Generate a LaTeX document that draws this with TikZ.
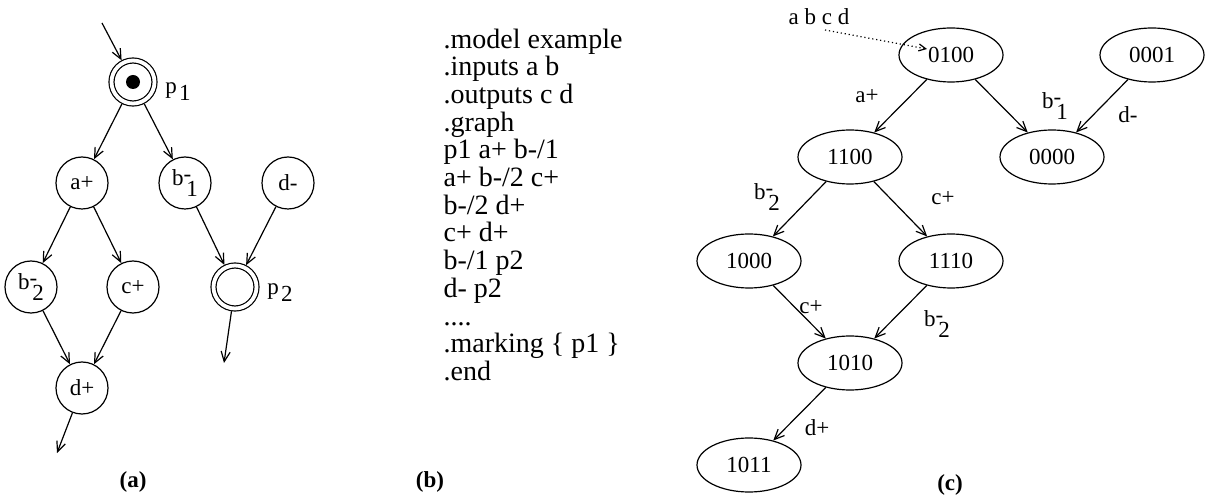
\documentclass[tikz,border=0pt]{standalone}
\usepackage{fontspec}
\setmainfont{Liberation Serif}
\usetikzlibrary{arrows.meta,shapes.geometric}

% b with a raised minus and an index below it
\newcommand\bsub[1]{b\rlap{\raisebox{.2em}{-}}\kern.12em\raisebox{-.45em}{#1}}
\newcommand\psub[1]{p\kern.1em\raisebox{-.3em}{#1}}

\tikzset{
  every node/.style={font=\fontsize{11.5}{13}\selectfont},
  trans/.style={draw, circle, minimum size=26pt, inner sep=0pt},
  place/.style={draw, circle, double, double distance=1.9pt,
    minimum size=21.5pt, inner sep=0pt, outer sep=1.5pt},
  state/.style={draw, ellipse, minimum width=52pt, minimum height=27pt,
    inner sep=0pt},
  arc/.style={-{Straight Barb[length=5pt,width=4.5pt]}},
  code/.style={font=\fontsize{14}{13.85}\selectfont, align=left,
    inner sep=0pt, anchor=north west},
}

\begin{document}
\begin{tikzpicture}[x=0.5pt,y=-0.5pt,line width=0.6pt]
  \useasboundingbox (0,0) rectangle (1215,496);

  % (a) the net
  \node[place] (p1) at (133,82) {};
  \fill (p1) circle (3.5pt);
  \node (p1l) at (178,92) {\psub{1}};
  \node[trans] (ap) at (82,183) {a+};
  \node[trans] (bm1) at (185,183) {\bsub{1}};
  \node[trans] (dm) at (288,183) {d-};
  \node[trans] (bm2) at (31,287) {\bsub{2}};
  \node[trans] (cp) at (133,287) {c+};
  \node[place] (p2) at (235,287) {};
  \node (p2l) at (280,293) {\psub{2}};
  \node[trans] (dp) at (82,388) {d+};
  \coordinate (pin) at (102,23);
  \coordinate (dout) at (57,453);
  \coordinate (pout) at (224,363);
  \foreach \s/\t in {pin/p1, p1/ap, p1/bm1, ap/bm2, ap/cp, bm2/dp, cp/dp,
                     bm1/p2, dm/p2, dp/dout, p2/pout}
    \draw[arc] (\s) -- (\t);
  \node (capa) at (133,482) {\textbf{(a)}};

  % (b) the text file
  \node[code] (spec) at (443,28) {.model example\\ .inputs a b\\ .outputs c d\\
    .graph\\ p1 a+ b-/1\\ a+ b-/2 c+\\ b-/2 d+\\ c+ d+\\ b-/1 p2\\ d- p2\\
    ....\\ .marking \{ p1 \}\\ .end};
  \node (capb) at (430,482) {\textbf{(b)}};

  % (c) the state graph
  \node[state] (s0100) at (951,55) {0100};
  \node[state] (s0001) at (1152,55) {0001};
  \node[state] (s1100) at (850,157) {1100};
  \node[state] (s0000) at (1052,157) {0000};
  \node[state] (s1000) at (749,261) {1000};
  \node[state] (s1110) at (951,261) {1110};
  \node[state] (s1010) at (850,363) {1010};
  \node[state] (s1011) at (749,465) {1011};
  \foreach \s/\t in {0100/1100, 0100/0000, 0001/0000, 1100/1000, 1100/1110,
                     1000/1010, 1110/1010, 1010/1011}
    \draw[arc] (s\s) -- (s\t);
  \node (la1) at (867,96) {a+};
  \node (lb1) at (1055,106) {\bsub{1}};
  \node (ld1) at (1128,115) {d-};
  \node (lb2) at (767,197) {\bsub{2}};
  \node (lc1) at (943,198) {c+};
  \node (lc2) at (811,307) {c+};
  \node (lb3) at (937,324) {\bsub{2}};
  \node (ld2) at (817,428) {d+};
  \node (sig) at (819,17) {a b c d};
  \coordinate (sigfrom) at (825,30);
  \coordinate (sigto) at (927,49);
  \draw[-{Straight Barb[length=3.5pt,width=3.5pt]},
        dash pattern=on 0.6pt off 1.4pt] (sigfrom) -- (sigto);
  \node (capc) at (950,485) {\textbf{(c)}};
\end{tikzpicture}
\end{document}
